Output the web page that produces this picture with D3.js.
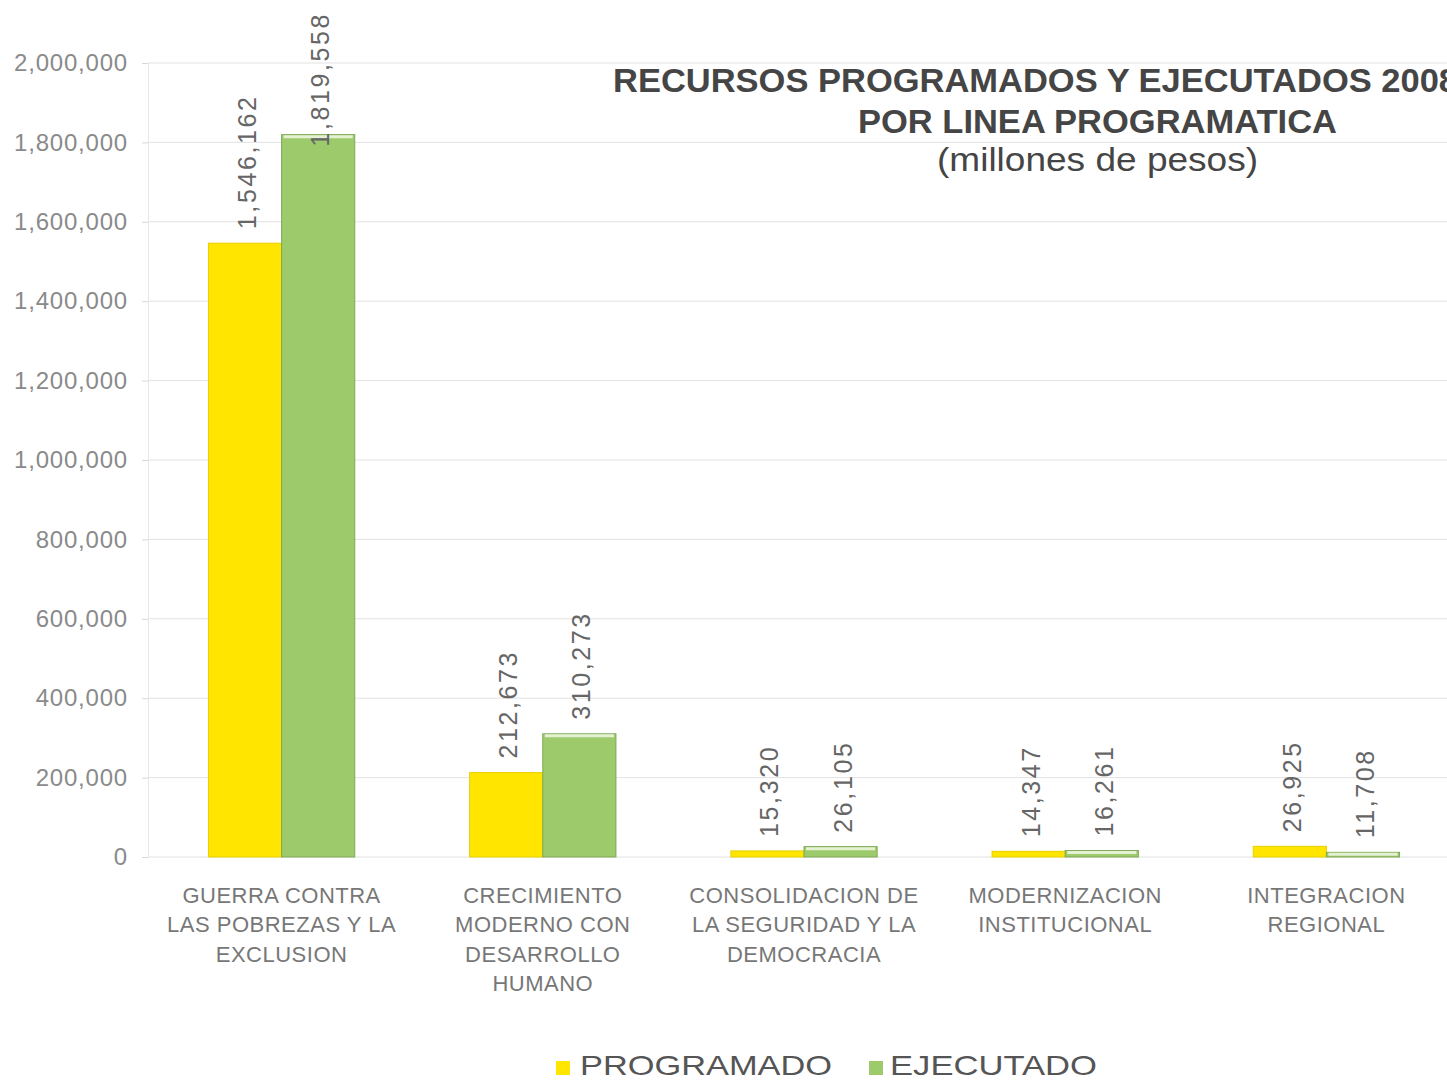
<!DOCTYPE html>
<html>
<head>
<meta charset="utf-8">
<script src="https://cdn.jsdelivr.net/npm/d3@7"></script>
<style>
  html, body { margin: 0; padding: 0; background: #fff; overflow: hidden; }
  svg { display: block; font-family: "Liberation Sans", Arial, sans-serif; }
</style>
</head>
<body>
<div id="chart"></div>
<script>
'use strict';

// chart data
var categories = [
  ['GUERRA CONTRA', 'LAS POBREZAS Y LA', 'EXCLUSION'],
  ['CRECIMIENTO', 'MODERNO CON', 'DESARROLLO', 'HUMANO'],
  ['CONSOLIDACION DE', 'LA SEGURIDAD Y LA', 'DEMOCRACIA'],
  ['MODERNIZACION', 'INSTITUCIONAL'],
  ['INTEGRACION', 'REGIONAL']
];
var seriesNames = ['PROGRAMADO', 'EJECUTADO'];
var programado = [1546162, 212673, 15320, 14347, 26925];
var ejecutado = [1819558, 310273, 26105, 16261, 11708];
var yTicks = [0, 200000, 400000, 600000, 800000, 1000000, 1200000, 1400000, 1600000, 1800000, 2000000];
var titleLines = ['RECURSOS PROGRAMADOS Y EJECUTADOS 2008', 'POR LINEA PROGRAMATICA', '(millones de pesos)'];

var width = 1447, height = 1084;
var colors = {PROGRAMADO: '#ffe500', EJECUTADO: '#9dca6b'};
var strokes = {PROGRAMADO: '#e8cf00', EJECUTADO: '#7ea857'};

var svg = d3.select('#chart').append('svg')
  .attr('width', width)
  .attr('height', height);

// scales
var x0 = d3.scaleBand()
  .domain(d3.range(categories.length))
  .range([151, 1457])
  .paddingInner(0.44)
  .paddingOuter(0.22);
var x1 = d3.scaleBand()
  .domain(seriesNames)
  .range([0, x0.bandwidth()]);
var y = d3.scaleLinear()
  .domain([0, 2000000])
  .range([857, 63]);

// grid lines
svg.append('g').selectAll('line').data(yTicks)
  .enter().append('line')
  .attr('x1', 148).attr('x2', width)
  .attr('y1', function(d){ return y(d); })
  .attr('y2', function(d){ return y(d); })
  .attr('stroke', '#e2e2e2')
  .attr('stroke-width', 1);

// y axis
var yAxis = d3.axisLeft(y)
  .tickValues(yTicks)
  .tickSize(6)
  .tickPadding(14)
  .tickFormat(d3.format(','));
var yG = svg.append('g')
  .attr('transform', 'translate(148,0)')
  .call(yAxis);
yG.select('.domain').attr('stroke', '#e6e6e6');
yG.selectAll('.tick line').attr('stroke', '#d8d8d8');
yG.selectAll('.tick text')
  .attr('fill', '#8a8a8a')
  .style('font-size', '24px')
  .style('letter-spacing', '0.8px');

// bars
var rows = categories.map(function(c, i){
  return [
    {key: 'PROGRAMADO', value: programado[i], i: i},
    {key: 'EJECUTADO', value: ejecutado[i], i: i}
  ];
});

var groups = svg.append('g').selectAll('g').data(rows)
  .enter().append('g')
  .attr('transform', function(d, i){ return 'translate(' + x0(i) + ',0)'; });

groups.selectAll('rect').data(function(d){ return d; })
  .enter().append('rect')
  .attr('x', function(d){ return x1(d.key); })
  .attr('y', function(d){ return y(d.value); })
  .attr('width', x1.bandwidth())
  .attr('height', function(d){ return y(0) - y(d.value); })
  .attr('fill', function(d){ return colors[d.key]; })
  .attr('stroke', function(d){ return strokes[d.key]; })
  .attr('stroke-width', 1);

// light top edge on the green bars
groups.selectAll('line.hl').data(function(d){ return d.filter(function(e){ return e.key === 'EJECUTADO'; }); })
  .enter().append('line')
  .attr('class', 'hl')
  .attr('x1', function(d){ return x1(d.key) + 2; })
  .attr('x2', function(d){ return x1(d.key) + x1.bandwidth() - 2; })
  .attr('y1', function(d){ return y(d.value) + 2; })
  .attr('y2', function(d){ return y(d.value) + 2; })
  .attr('stroke', '#e4f1d2')
  .attr('stroke-width', 3);

// value labels (rotated), pushed down when they would run off the top
var labels = groups.selectAll('text').data(function(d){ return d; })
  .enter().append('text')
  .attr('dominant-baseline', 'central')
  .attr('fill', '#666')
  .style('font-size', '25px')
  .style('letter-spacing', '2.6px')
  .text(function(d){ return d3.format(',')(d.value); });

labels.attr('transform', function(d){
  var len = this.getComputedTextLength();
  var cx = x1(d.key) + x1.bandwidth() / 2 + 2;
  var base = y(d.value) - 14;
  if (base - len < 12) base = 12 + len;
  return 'translate(' + cx + ',' + base + ') rotate(-90)';
});

// category labels
var catG = svg.append('g').selectAll('text').data(categories)
  .enter().append('text')
  .attr('text-anchor', 'middle')
  .attr('fill', '#777')
  .style('font-size', '22px')
  .style('letter-spacing', '0.5px');
catG.selectAll('tspan').data(function(d, i){ return d.map(function(t){ return {t: t, i: i}; }); })
  .enter().append('tspan')
  .attr('x', function(d){ return x0(d.i) + x0.bandwidth() / 2; })
  .attr('y', function(d, j){ return 903 + j * 29.3; })
  .text(function(d){ return d.t; });

// title
svg.append('text')
  .attr('x', 613).attr('y', 92)
  .attr('fill', '#454545')
  .attr('font-weight', 'bold')
  .style('font-size', '33px')
  .attr('textLength', 845)
  .attr('lengthAdjust', 'spacingAndGlyphs')
  .text(titleLines[0]);
svg.append('text')
  .attr('x', 858).attr('y', 133)
  .attr('fill', '#454545')
  .attr('font-weight', 'bold')
  .style('font-size', '33px')
  .attr('textLength', 479)
  .attr('lengthAdjust', 'spacingAndGlyphs')
  .text(titleLines[1]);
svg.append('text')
  .attr('x', 937).attr('y', 171)
  .attr('fill', '#454545')
  .style('font-size', '33px')
  .attr('textLength', 321)
  .attr('lengthAdjust', 'spacingAndGlyphs')
  .text(titleLines[2]);

// legend
var legendPos = [{x: 556, tx: 580, w: 252}, {x: 869, tx: 890, w: 207}];
var leg = svg.append('g').selectAll('g').data(seriesNames)
  .enter().append('g');
leg.append('rect')
  .attr('x', function(d, i){ return legendPos[i].x; })
  .attr('y', 1061)
  .attr('width', 14).attr('height', 14)
  .attr('fill', function(d){ return colors[d]; });
leg.append('text')
  .attr('x', function(d, i){ return legendPos[i].tx; })
  .attr('y', 1075)
  .attr('fill', '#555')
  .style('font-size', '28px')
  .attr('textLength', function(d, i){ return legendPos[i].w; })
  .attr('lengthAdjust', 'spacingAndGlyphs')
  .text(function(d){ return d; });
</script>
</body>
</html>
